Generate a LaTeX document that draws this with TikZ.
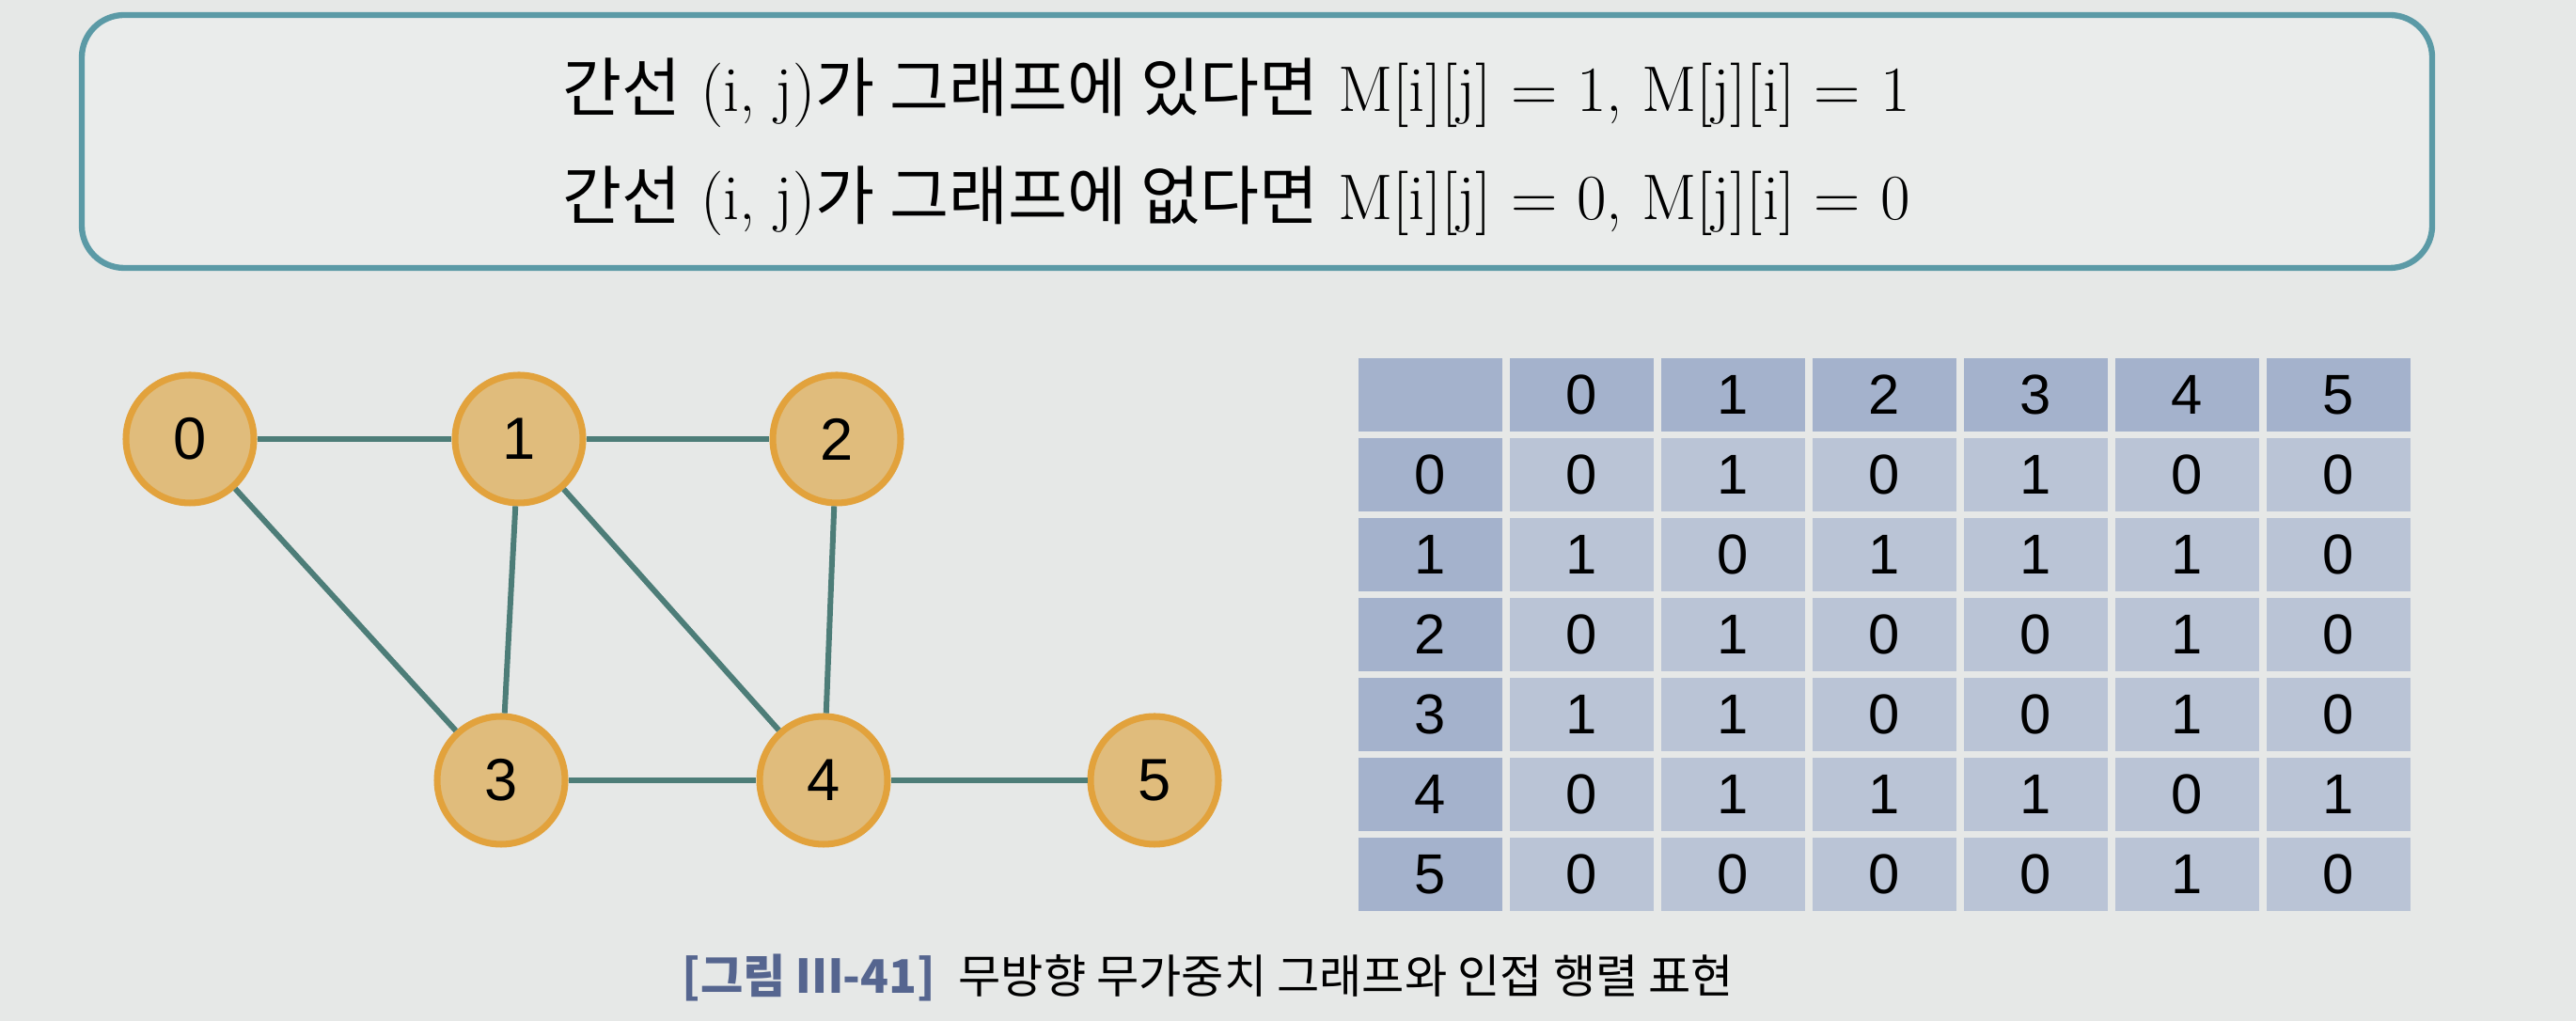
\documentclass[tikz,border=0pt]{standalone}
\usepackage{fontspec}
\newfontfamily\kr{Noto Sans CJK KR}
\newfontfamily\digits{Liberation Sans}
\definecolor{paper}{HTML}{E6E8E7}
\definecolor{boxfill}{HTML}{EAECEB}
\definecolor{boxline}{HTML}{5B9AA6}
\definecolor{nodefill}{HTML}{E0BC7C}
\definecolor{nodeedge}{HTML}{E2A23C}
\definecolor{edgecol}{HTML}{4D7D78}
\definecolor{headfill}{HTML}{A4B2CC}
\definecolor{cellfill}{HTML}{BAC4D6}
\definecolor{capblue}{HTML}{55658F}

\begin{document}
\begin{tikzpicture}[
    vertex/.style={circle, draw=nodeedge, fill=nodefill, line width=2pt, minimum size=1.36cm, inner sep=0pt, font=\digits\fontsize{18}{21}\selectfont},
    edge/.style={draw=edgecol, line width=1.7pt},
    cell/.style={fill=cellfill, minimum width=1.53cm, minimum height=0.78cm, inner sep=0pt, font=\digits\fontsize{17}{20}\selectfont},
    headcell/.style={cell, fill=headfill}]
        \fill[paper] (0,0) rectangle (27.4,10.86);
        \useasboundingbox (0,0) rectangle (27.4,10.86);
        % rule box
        \draw[boxline, fill=boxfill, line width=1.8pt, rounded corners=0.45cm] (0.87,8.01) rectangle (25.87,10.7);
        \node (rule1) at (13.15,9.87) {\fontsize{19.5}{23}\selectfont{\kr 간선} (i, j){\kr 가 그래프에 있다면} M[i][j] = 1, M[j][i] = 1};
        \node (rule2) at (13.15,8.72) {\fontsize{19.5}{23}\selectfont{\kr 간선} (i, j){\kr 가 그래프에 없다면} M[i][j] = 0, M[j][i] = 0};
        % graph
        \node[vertex] (v0) at (2.02,6.19) {0};
        \node[vertex] (v1) at (5.52,6.19) {1};
        \node[vertex] (v2) at (8.90,6.19) {2};
        \node[vertex] (v3) at (5.33,2.56) {3};
        \node[vertex] (v4) at (8.76,2.56) {4};
        \node[vertex] (v5) at (12.28,2.56) {5};
        \foreach \a/\b in {v0/v1, v1/v2, v0/v3, v1/v3, v1/v4, v2/v4, v3/v4, v4/v5}
          \draw[edge] (\a) -- (\b);
        % adjacency matrix
        \node[headcell] (corner) at (15.21,6.66) {};
        \foreach \c in {0,...,5}
          \node[headcell] (top\c) at ({15.21+1.61*(\c+1)},6.66) {\c};
        \foreach \r/\row in {0/{0,1,0,1,0,0},1/{1,0,1,1,1,0},2/{0,1,0,0,1,0},3/{1,1,0,0,1,0},4/{0,1,1,1,0,1},5/{0,0,0,0,1,0}} {
          \node[headcell] (side\r) at (15.21,{6.66-0.85*(\r+1)}) {\r};
          \foreach \v [count=\c from 0] in \row
            \node[cell] (m\r\c) at ({15.21+1.61*(\c+1)},{6.66-0.85*(\r+1)}) {\v};
        }
        \node (caption) at (12.85,0.46) {\fontsize{14}{17}\selectfont{\kr\bfseries\color{capblue}[그림 Ⅲ-41]}\enspace{\kr 무방향 무가중치 그래프와 인접 행렬 표현}};
      \end{tikzpicture}
\end{document}
